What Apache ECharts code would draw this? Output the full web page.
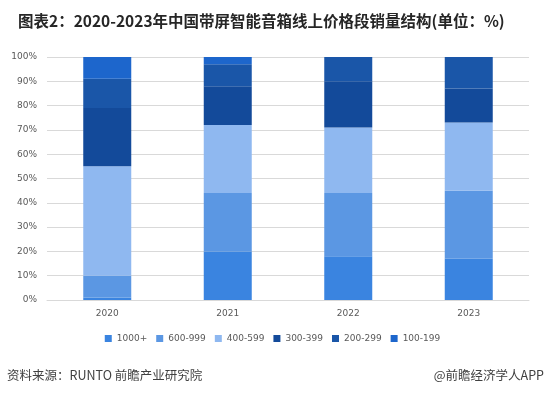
<!DOCTYPE html>
<html><head><meta charset="utf-8">
<script src="https://cdn.jsdelivr.net/npm/echarts@6/dist/echarts.min.js"></script>
<style>html,body{margin:0;padding:0;background:#fff;}#c{width:545px;height:396px;}</style>
</head><body><div id="c"></div>
<script>
const categories = ['2020','2021','2022','2023'];
const seriesNames = ['1000+','600-999','400-599','300-399','200-299','100-199'];
const s1000 = [1, 20, 18, 17];
const s600 = [9, 24, 26, 28];
const s400 = [45, 28, 27, 28];
const s300 = [24, 16, 19, 14];
const s200 = [12, 9, 10, 13];
const s100 = [9, 3, 0, 0];
const yTicks = [0,10,20,30,40,50,60,70,80,90,100];
const colors = ['#3a84e0','#5b97e3','#8fb8f0','#134a9a','#1a56a8','#1d66cc'];
const values = [s1000, s600, s400, s300, s200, s100];

const chart = echarts.init(document.getElementById('c'), null, {renderer:'canvas'});
chart.setOption({
  animation:false,
  color: colors,
  title: [{
    text:'图表2：2020-2023年中国带屏智能音箱线上价格段销量结构(单位：%)',
    left:18, top:13, padding:0,
    textStyle:{fontFamily:'Noto Sans CJK SC', fontSize:15.5, fontWeight:'bold', color:'#262626'}
  },{
    text:'资料来源：RUNTO 前瞻产业研究院',
    left:7, top:369, padding:0,
    textStyle:{fontFamily:'Noto Sans CJK SC', fontSize:12.5, fontWeight:'normal', color:'#404040'}
  },{
    text:'@前瞻经济学人APP',
    right:1, top:369, padding:0,
    textStyle:{fontFamily:'Noto Sans CJK SC', fontSize:12.5, fontWeight:'normal', color:'#404040'}
  }],
  grid:{left:47, right:16, top:57, bottom:96},
  legend:{
    data:seriesNames, left:'center', top:334, padding:0,
    itemWidth:7, itemHeight:7, itemGap:9, icon:'rect',
    textStyle:{fontFamily:'DejaVu Sans', fontSize:9, color:'#595959'}
  },
  xAxis:{
    type:'category', data:categories,
    axisLine:{show:true, lineStyle:{color:'#d9d9d9'}},
    axisTick:{show:false},
    axisLabel:{fontFamily:'DejaVu Sans', fontSize:9, color:'#595959', margin:9}
  },
  yAxis:{
    type:'value', min:0, max:100, interval:10,
    axisLine:{show:false}, axisTick:{show:false},
    splitLine:{lineStyle:{color:'#d9d9d9'}},
    axisLabel:{fontFamily:'DejaVu Sans', fontSize:9, color:'#595959', margin:10,
      formatter:v=> yTicks.includes(v) ? v+'%' : ''}
  },
  series: seriesNames.map((n,i)=>({
    name:n, type:'bar', stack:'total', barWidth:48,
    data:values[i], itemStyle:{color:colors[i]}
  }))
});
</script></body></html>
